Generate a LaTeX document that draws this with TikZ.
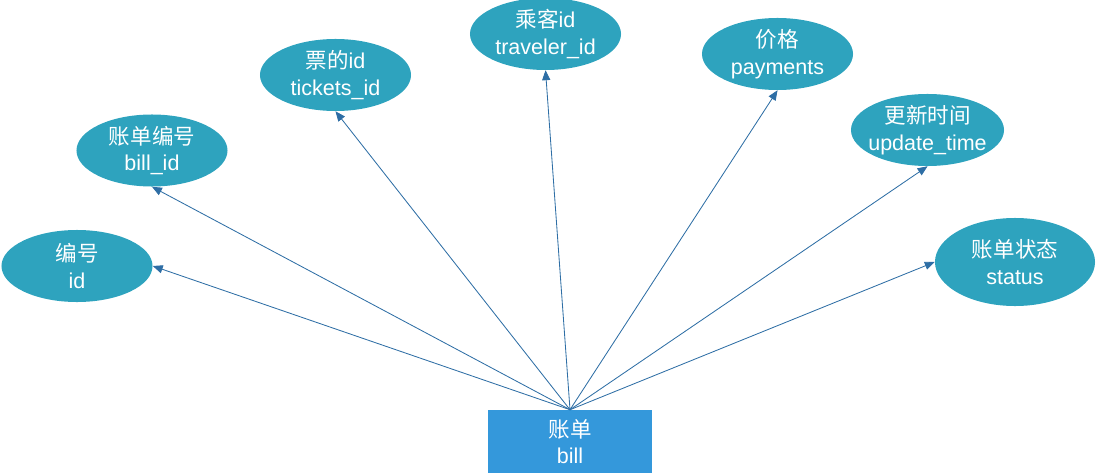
\documentclass[tikz,border=0pt]{standalone}
\usepackage{fontspec}
\setmainfont{Liberation Sans}
\newfontfamily\cjk{Noto Sans CJK SC}
\usetikzlibrary{arrows,shapes.geometric}
\definecolor{ttaacc}{rgb}{0.18,0.639,0.745}
\definecolor{qqbbee}{rgb}{0.204,0.596,0.859}
\definecolor{ssllpp}{rgb}{0.18,0.431,0.647}

\begin{document}
\begin{tikzpicture}[line cap=round,line join=round,>=triangle 45,x=0.025cm,y=-0.025cm,
  attr/.style={ellipse,fill=ttaacc,text=white,inner sep=0pt,align=center,
    minimum width=3.775cm,minimum height=1.8cm,font=\fontsize{15.3}{19}\selectfont},
  entity/.style={rectangle,fill=qqbbee,text=white,inner sep=0pt,align=center,
    minimum width=4.1cm,minimum height=1.575cm,font=\fontsize{15.3}{19}\selectfont},
  link/.style={->,color=ssllpp,line width=0.6pt}]
\useasboundingbox (0,0) rectangle (1096,473);
\node[entity] (bill) at (570,441.5) {{\cjk 账单}\\bill};
\node[attr] (id) at (77,266) {{\cjk 编号}\\id};
\node[attr] (billid) at (152,150.5) {{\cjk 账单编号}\\bill\_id};
\node[attr] (tickets) at (335.5,75) {{\cjk 票的}id\\tickets\_id};
\node[attr] (traveler) at (545.5,34) {{\cjk 乘客}id\\traveler\_id};
\node[attr] (payments) at (777.5,54) {{\cjk 价格}\\payments};
\node[attr,inner xsep=-6pt,minimum width=3.825cm] (update) at (927.5,130) {{\cjk 更新时间}\\update\_time};
\node[attr,minimum width=4cm,minimum height=2.2cm] (status) at (1015,262) {{\cjk 账单状态}\\status};
\draw[link] (bill.north) -- (id.east);
\draw[link] (bill.north) -- (billid.south);
\draw[link] (bill.north) -- (tickets.south);
\draw[link] (bill.north) -- (traveler.south);
\draw[link] (bill.north) -- (payments.south);
\draw[link] (bill.north) -- (update.south);
\draw[link] (bill.north) -- (status.west);
\end{tikzpicture}
\end{document}
